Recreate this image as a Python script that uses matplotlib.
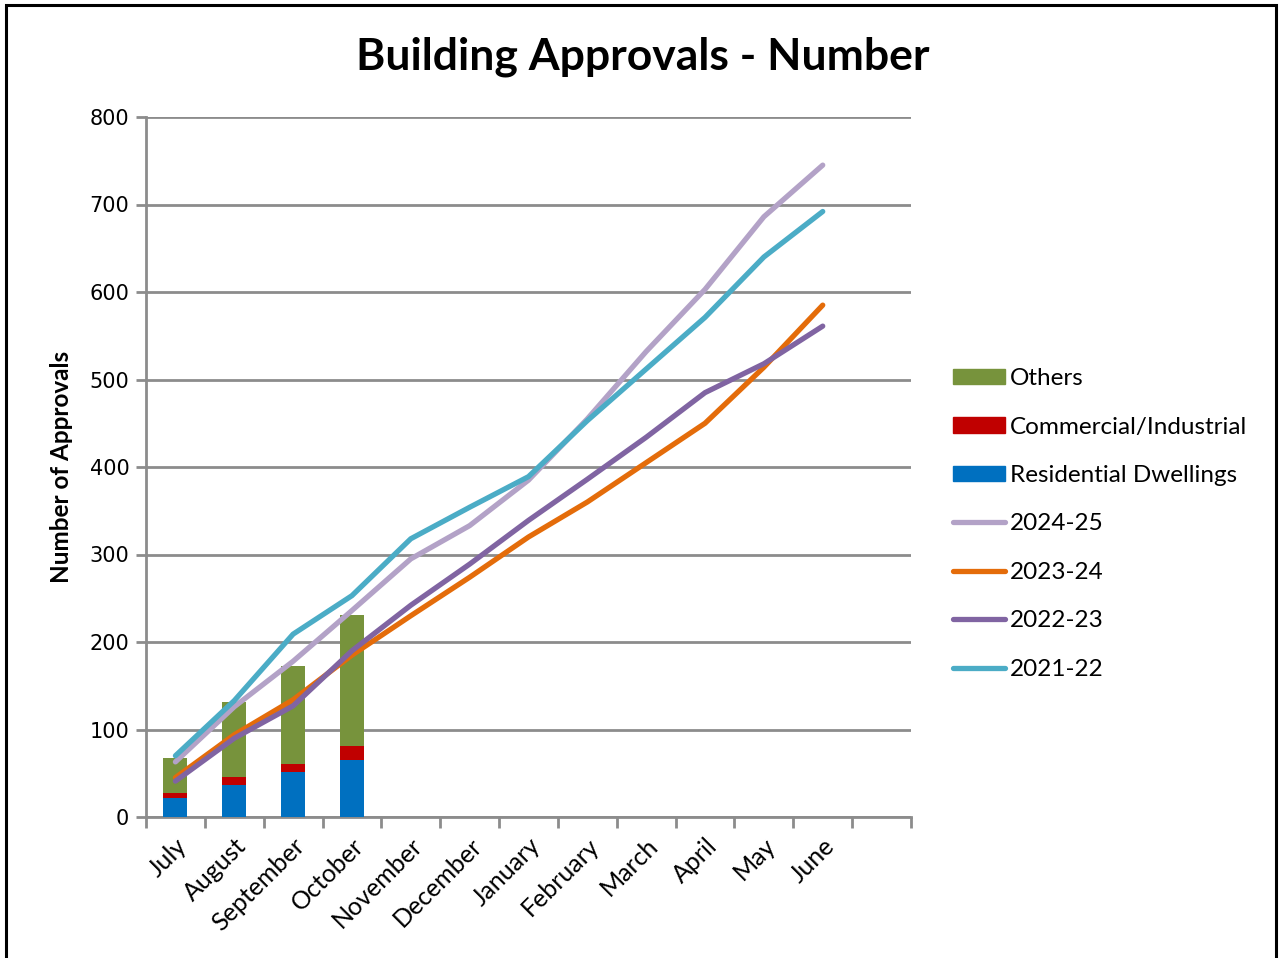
import numpy as np
import matplotlib
matplotlib.use("Agg")
import matplotlib.pyplot as plt
from matplotlib.patches import Rectangle, Patch
from matplotlib.lines import Line2D

# Months of the financial year (13th slot is left empty on the axis)
months = ["July", "August", "September", "October", "November", "December",
          "January", "February", "March", "April", "May", "June"]

# Current year monthly approvals, stacked by type
residential = [22, 37, 51, 65]
commercial = [6, 9, 10, 16]
others = [40, 85, 112, 150]

# Cumulative approvals for previous years
fy_2024_25 = [63, 126, 178, 236, 295, 333, 385, 455, 532, 603, 686, 745]
fy_2023_24 = [45, 94, 134, 185, 230, 274, 320, 360, 405, 450, 514, 585]
fy_2022_23 = [41, 90, 127, 190, 242, 289, 339, 386, 434, 485, 518, 561]
fy_2021_22 = [70, 133, 209, 253, 318, 354, 389, 453, 512, 571, 640, 692]

c_res = "#0070C0"
c_com = "#C00000"
c_oth = "#77933C"
c_2425 = "#B3A2C7"
c_2324 = "#E46C0A"
c_2223 = "#8064A2"
c_2122 = "#4BACC6"
grid_c = "#8C8C8C"

label_font = ["Lato", "DejaVu Sans"]

fig = plt.figure(figsize=(12.8, 9.58), dpi=100)
ax = fig.add_axes([146 / 1280, 1 - 817 / 958, 765 / 1280, 700 / 958])

# outer chart border
fig.patches.append(Rectangle((6 / 1280, -0.01), 1270 / 1280, 1 - 5 / 958 + 0.01,
                             transform=fig.transFigure, fill=False,
                             edgecolor="black", linewidth=2.2, zorder=0))

x_bar = np.arange(len(residential))
bw = 0.41
res = np.array(residential)
com = np.array(commercial)
oth = np.array(others)
ax.bar(x_bar, res, bw, color=c_res, zorder=3)
ax.bar(x_bar, com, bw, bottom=res, color=c_com, zorder=3)
ax.bar(x_bar, oth, bw, bottom=res + com, color=c_oth, zorder=3)

x_line = np.arange(len(months))
lw = 3.8
for vals, col in [(fy_2024_25, c_2425), (fy_2023_24, c_2324),
                  (fy_2022_23, c_2223), (fy_2021_22, c_2122)]:
    ax.plot(x_line, vals, color=col, linewidth=lw, solid_capstyle="round",
            solid_joinstyle="round", zorder=4)

ax.set_xlim(-0.5, 12.5)
ax.set_ylim(0, 800)
ax.set_yticks(np.arange(0, 801, 100))
ax.yaxis.grid(True, color=grid_c, linewidth=2)
ax.set_axisbelow(True)

for s in ["top", "right"]:
    ax.spines[s].set_visible(False)
for s in ["left", "bottom"]:
    ax.spines[s].set_color(grid_c)
    ax.spines[s].set_linewidth(2)

# category ticks sit between months
ax.set_xticks(np.arange(-0.5, 12.6, 1.0))
ax.set_xticklabels([])
ax.set_xticks(x_line, minor=True)
ax.set_xticklabels(months, minor=True, rotation=45, ha="right",
                   rotation_mode="anchor", fontsize=18, family=label_font)
ax.tick_params(axis="x", which="major", length=8, width=2, color=grid_c,
               direction="out")
ax.tick_params(axis="x", which="minor", length=0, pad=12)
ax.tick_params(axis="y", length=7, width=2, color=grid_c, labelsize=15,
               pad=5)

ax.set_ylabel("Number of Approvals", fontsize=17.5, fontweight="bold",
              family=label_font, labelpad=12)
fig.text(643 / 1280, 1 - 57 / 958, "Building Approvals - Number",
         ha="center", va="center", fontsize=32, fontweight="bold",
         family=label_font)

handles = [
    Patch(color=c_oth, label="Others"),
    Patch(color=c_com, label="Commercial/Industrial"),
    Patch(color=c_res, label="Residential Dwellings"),
    Line2D([], [], color=c_2425, linewidth=lw, solid_capstyle="round", label="2024-25"),
    Line2D([], [], color=c_2324, linewidth=lw, solid_capstyle="round", label="2023-24"),
    Line2D([], [], color=c_2223, linewidth=lw, solid_capstyle="round", label="2022-23"),
    Line2D([], [], color=c_2122, linewidth=lw, solid_capstyle="round", label="2021-22"),
]
fig.legend(handles=handles, loc="center left",
           bbox_to_anchor=(931 / 1280, 1 - 524 / 958), frameon=False,
           prop={"family": label_font, "size": 17.5}, handlelength=2.15,
           handleheight=0.6, handletextpad=0.2, labelspacing=1.13)

fig.savefig("out.png", dpi=100)
